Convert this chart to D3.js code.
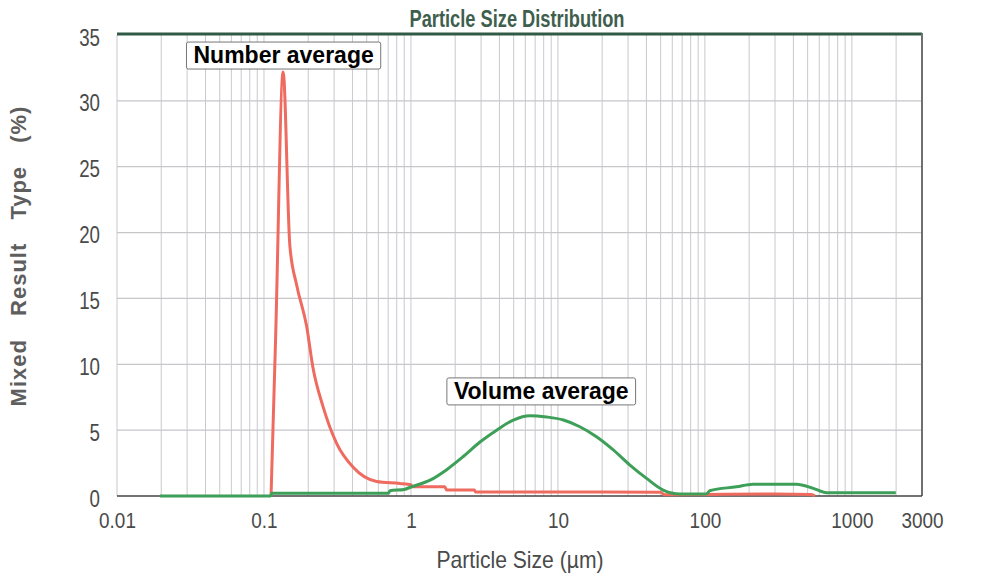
<!DOCTYPE html>
<html>
<head>
<meta charset="utf-8">
<script src="https://cdn.jsdelivr.net/npm/d3@7"></script>
<style>
    body { margin: 0; background: #fff; }
    svg { display: block; }
    .tick text { font-family: "Liberation Sans", Arial, sans-serif; fill: #4a4a4a; }
</style>
</head>
<body>
<div id="chart"></div>
<script>

// axis ticks
var xTicks = [ 0.01, 0.1, 1, 10, 100, 1000, 3000 ];
var xTickLabels = [ '0.01', '0.1', '1', '10', '100', '1000', '3000' ];
var yTicks = [ 0, 5, 10, 15, 20, 25, 30, 35 ];

// number average (red), particle size in um / percent
var numberSizes  = [ 0.1117, 0.120, 0.135, 0.150, 0.167, 0.195, 0.215, 0.252, 0.312, 0.403, 0.584, 0.84, 1.0, 1.02, 1.7, 1.75, 2.7, 2.75, 10, 50, 53, 100, 300, 530, 560 ];
var numberValues = [ 0, 12, 32.2, 19, 16, 12.9, 9.8, 6.8, 4.0, 2.2, 1.1, 0.95, 0.85, 0.7, 0.7, 0.45, 0.45, 0.3, 0.3, 0.28, 0.1, 0.12, 0.15, 0.12, 0 ];

// volume average (green)
var volumeSizes  = [ 0.0196, 0.111, 0.113, 0.70, 0.72, 0.9, 1.01, 1.35, 1.75, 2.27, 2.95, 3.83, 4.97, 6.45, 8.38, 10.9, 14.1, 18.3, 23.8, 30.9, 40.1, 52, 67.6, 102, 108, 164, 212, 421, 546, 673, 1991 ];
var volumeValues = [ 0, 0, 0.2, 0.2, 0.4, 0.5, 0.7, 1.2, 2.0, 3.0, 4.1, 5.0, 5.77, 6.1, 6.0, 5.77, 5.26, 4.5, 3.5, 2.35, 1.34, 0.45, 0.15, 0.15, 0.4, 0.7, 0.9, 0.9, 0.58, 0.25, 0.25 ];

var labels = [ 'Number average', 'Volume average' ];

var width = 997,
    height = 581,
    margin = { top: 35, right: 75, bottom: 85, left: 117 };

var x = d3.scaleLog()
    .domain([ 0.01, 3000 ])
    .range([ margin.left, width - margin.right ]);

var y = d3.scaleLinear()
    .domain([ 0, 35 ])
    .range([ height - margin.bottom, margin.top ]);

var svg = d3.select('#chart').append('svg')
    .attr('width', width)
    .attr('height', height);

// grid
var minor = [];
[ 0.01, 0.1, 1, 10, 100, 1000 ].forEach( function ( d ) {
    for ( var k = 1; k < 10; k++ ) {
        if ( d * k <= 3000 ) minor.push( d * k );
    }
});

svg.append('g').selectAll('line')
    .data( minor )
    .enter().append('line')
    .attr('x1', function ( d ) { return x( d ) })
    .attr('x2', function ( d ) { return x( d ) })
    .attr('y1', y( 35 ))
    .attr('y2', y( 0 ))
    .style('stroke', '#c9c9cf')
    .style('stroke-width', 1);

svg.append('g').selectAll('line')
    .data( yTicks.slice( 1, -1 ) )
    .enter().append('line')
    .attr('x1', x( 0.01 ))
    .attr('x2', x( 3000 ))
    .attr('y1', function ( d ) { return y( d ) })
    .attr('y2', function ( d ) { return y( d ) })
    .style('stroke', '#c6c6cb')
    .style('stroke-width', 1.2);

// frame
svg.append('line')
    .attr('x1', x( 0.01 )).attr('x2', x( 3000 ))
    .attr('y1', y( 35 ) - 1).attr('y2', y( 35 ) - 1)
    .style('stroke', '#2f5a45')
    .style('stroke-width', 3);

svg.append('line')
    .attr('x1', x( 3000 )).attr('x2', x( 3000 ))
    .attr('y1', y( 35 ) - 2).attr('y2', y( 0 ))
    .style('stroke', '#707070')
    .style('stroke-width', 2);

svg.append('line')
    .attr('x1', x( 0.01 )).attr('x2', x( 3000 ))
    .attr('y1', y( 0 )).attr('y2', y( 0 ))
    .style('stroke', '#444')
    .style('stroke-width', 1.6);

// axes
var xAxis = d3.axisBottom( x )
    .tickValues( xTicks )
    .tickFormat( function ( d, i ) { return xTickLabels[ i ] })
    .tickSize( 0 )
    .tickPadding( 16 );

var gx = svg.append('g')
    .attr('transform', 'translate(0,' + y( 0 ) + ')')
    .call( xAxis );
gx.select('.domain').remove();
gx.selectAll('text')
    .style('font-size', '22px')
    .attr('transform', 'scale(0.86,1)');

var yAxis = d3.axisLeft( y )
    .tickValues( yTicks )
    .tickSize( 0 )
    .tickPadding( 17 );

var gy = svg.append('g')
    .attr('transform', 'translate(' + margin.left + ',0)')
    .call( yAxis );
gy.select('.domain').remove();
gy.selectAll('text')
    .style('font-size', '24px')
    .attr('dy', '0.42em')
    .attr('x', -17 / 0.78)
    .attr('transform', 'scale(0.78,1)');

// curves
var line = d3.line()
    .x( function ( d ) { return x( d[0] ) })
    .y( function ( d ) { return y( d[1] ) })
    .curve( d3.curveMonotoneX );

svg.append('path')
    .datum( d3.zip( numberSizes, numberValues ) )
    .attr('d', line)
    .style('fill', 'none')
    .style('stroke', '#ef6a5f')
    .style('stroke-width', 3);

svg.append('path')
    .datum( d3.zip( volumeSizes, volumeValues ) )
    .attr('d', line)
    .style('fill', 'none')
    .style('stroke', '#3d9f58')
    .style('stroke-width', 3);

// labels
var notes = [
    { text: labels[0], cx: x( 0.136 ), cy: y( 33.5 ) },
    { text: labels[1], cx: x( 7.7 ), cy: y( 8.0 ) }
];

var note = svg.append('g').selectAll('g')
    .data( notes )
    .enter().append('g')
    .attr('transform', function ( d ) { return 'translate(' + d.cx + ',' + d.cy + ')' });

note.append('text')
    .attr('text-anchor', 'middle')
    .attr('dy', '0.36em')
    .style('font-family', '"Liberation Sans", Arial, sans-serif')
    .style('font-weight', 'bold')
    .style('font-size', '23px')
    .style('fill', '#000')
    .text( function ( d ) { return d.text });

note.insert('rect', 'text')
    .each( function () {
        var b = this.parentNode.querySelector('text').getBBox();
        d3.select( this )
            .attr('x', b.x - 7)
            .attr('y', b.y)
            .attr('width', b.width + 14)
            .attr('height', b.height + 1);
    })
    .attr('rx', 2)
    .style('fill', '#fff')
    .style('stroke', '#777')
    .style('stroke-width', 1);

// titles
svg.append('text')
    .attr('x', 517)
    .attr('y', 27)
    .attr('text-anchor', 'middle')
    .attr('textLength', 215)
    .attr('lengthAdjust', 'spacingAndGlyphs')
    .style('font-family', '"Liberation Sans", Arial, sans-serif')
    .style('font-weight', 'bold')
    .style('font-size', '23px')
    .style('fill', '#3e5e4e')
    .text('Particle Size Distribution');

svg.append('text')
    .attr('x', 520)
    .attr('y', 568)
    .attr('text-anchor', 'middle')
    .attr('textLength', 167)
    .attr('lengthAdjust', 'spacingAndGlyphs')
    .style('font-family', '"Liberation Sans", Arial, sans-serif')
    .style('font-size', '24px')
    .style('fill', '#4a4a4a')
    .text('Particle Size (\u00B5m)');

svg.append('text')
    .attr('transform', 'translate(26,256) rotate(-90)')
    .attr('text-anchor', 'middle')
    .style('font-family', '"Liberation Sans", Arial, sans-serif')
    .style('font-weight', 'bold')
    .style('font-size', '22px')
    .style('letter-spacing', '1px')
    .style('word-spacing', '16px')
    .style('fill', '#5e5e5e')
    .text('Mixed Result Type (%)');

</script>
</body>
</html>
